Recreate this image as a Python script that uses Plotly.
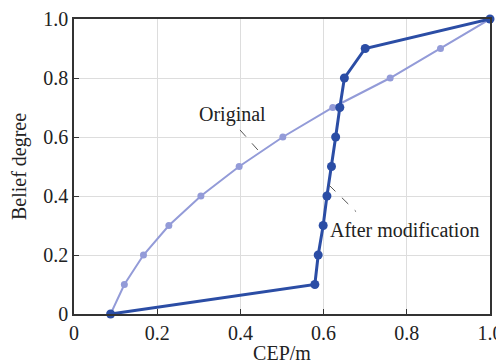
import plotly.graph_objects as go

belief = [0, 0.1, 0.2, 0.3, 0.4, 0.5, 0.6, 0.7, 0.8, 0.9, 1.0]
cep_original = [0.088, 0.121, 0.167, 0.228, 0.305, 0.397, 0.502, 0.622, 0.760, 0.881, 1.0]
cep_modified = [0.088, 0.579, 0.587, 0.599, 0.608, 0.619, 0.629, 0.639, 0.650, 0.700, 1.0]
tick_vals = [0, 0.2, 0.4, 0.6, 0.8, 1.0]
tick_text = ["0", "0.2", "0.4", "0.6", "0.8", "1.0"]

FONT = "Liberation Serif"
DARK = "#2b4da5"
LIGHT = "#939bd8"

fig = go.Figure()
fig.add_trace(go.Scatter(x=cep_original, y=belief, mode="lines+markers",
                         line=dict(color=LIGHT, width=2),
                         marker=dict(color=LIGHT, size=7),
                         cliponaxis=False, name="Original"))
fig.add_trace(go.Scatter(x=cep_modified, y=belief, mode="lines+markers",
                         line=dict(color=DARK, width=3),
                         marker=dict(color=DARK, size=9),
                         cliponaxis=False, name="After modification"))

# leader lines
fig.add_shape(type="line", x0=0.399, y0=0.624, x1=0.442, y1=0.556, xref="x", yref="y",
              line=dict(color="#555555", width=1, dash="dash"))
fig.add_shape(type="line", x0=0.613, y0=0.437, x1=0.678, y1=0.347, xref="x", yref="y",
              line=dict(color="#555555", width=1, dash="dash"))

fig.add_annotation(x=0.382, y=0.675, text="Original", showarrow=False,
                   xanchor="center", yanchor="middle",
                   font=dict(family=FONT, size=20, color="#222222"))
fig.add_annotation(x=0.611, y=0.285, text="After modification", showarrow=False,
                   xanchor="left", yanchor="middle",
                   font=dict(family=FONT, size=20, color="#222222"))

axis_common = dict(
    range=[0, 1], tickvals=tick_vals, ticktext=tick_text,
    showgrid=True, gridcolor="#dddddd", gridwidth=1,
    showline=True, linecolor="#333333", linewidth=1.5, mirror=True,
    ticks="inside", ticklen=5, tickcolor="#333333",
    zeroline=False, tickfont=dict(family=FONT, size=20, color="#222222"),
    automargin=False,
)

fig.update_xaxes(**axis_common, title=dict(text="CEP/m", font=dict(family=FONT, size=20, color="#222222"), standoff=5))
fig.update_yaxes(**axis_common, title=dict(text="Belief degree", font=dict(family=FONT, size=20, color="#222222"), standoff=11))

# page body has an 8px default margin; size the figure to fill the rest
fig.update_layout(
    width=496, height=356,
    margin=dict(l=66, r=14, t=11, b=50),
    plot_bgcolor="white", paper_bgcolor="white",
    showlegend=False,
)

fig.write_html("out.html")
